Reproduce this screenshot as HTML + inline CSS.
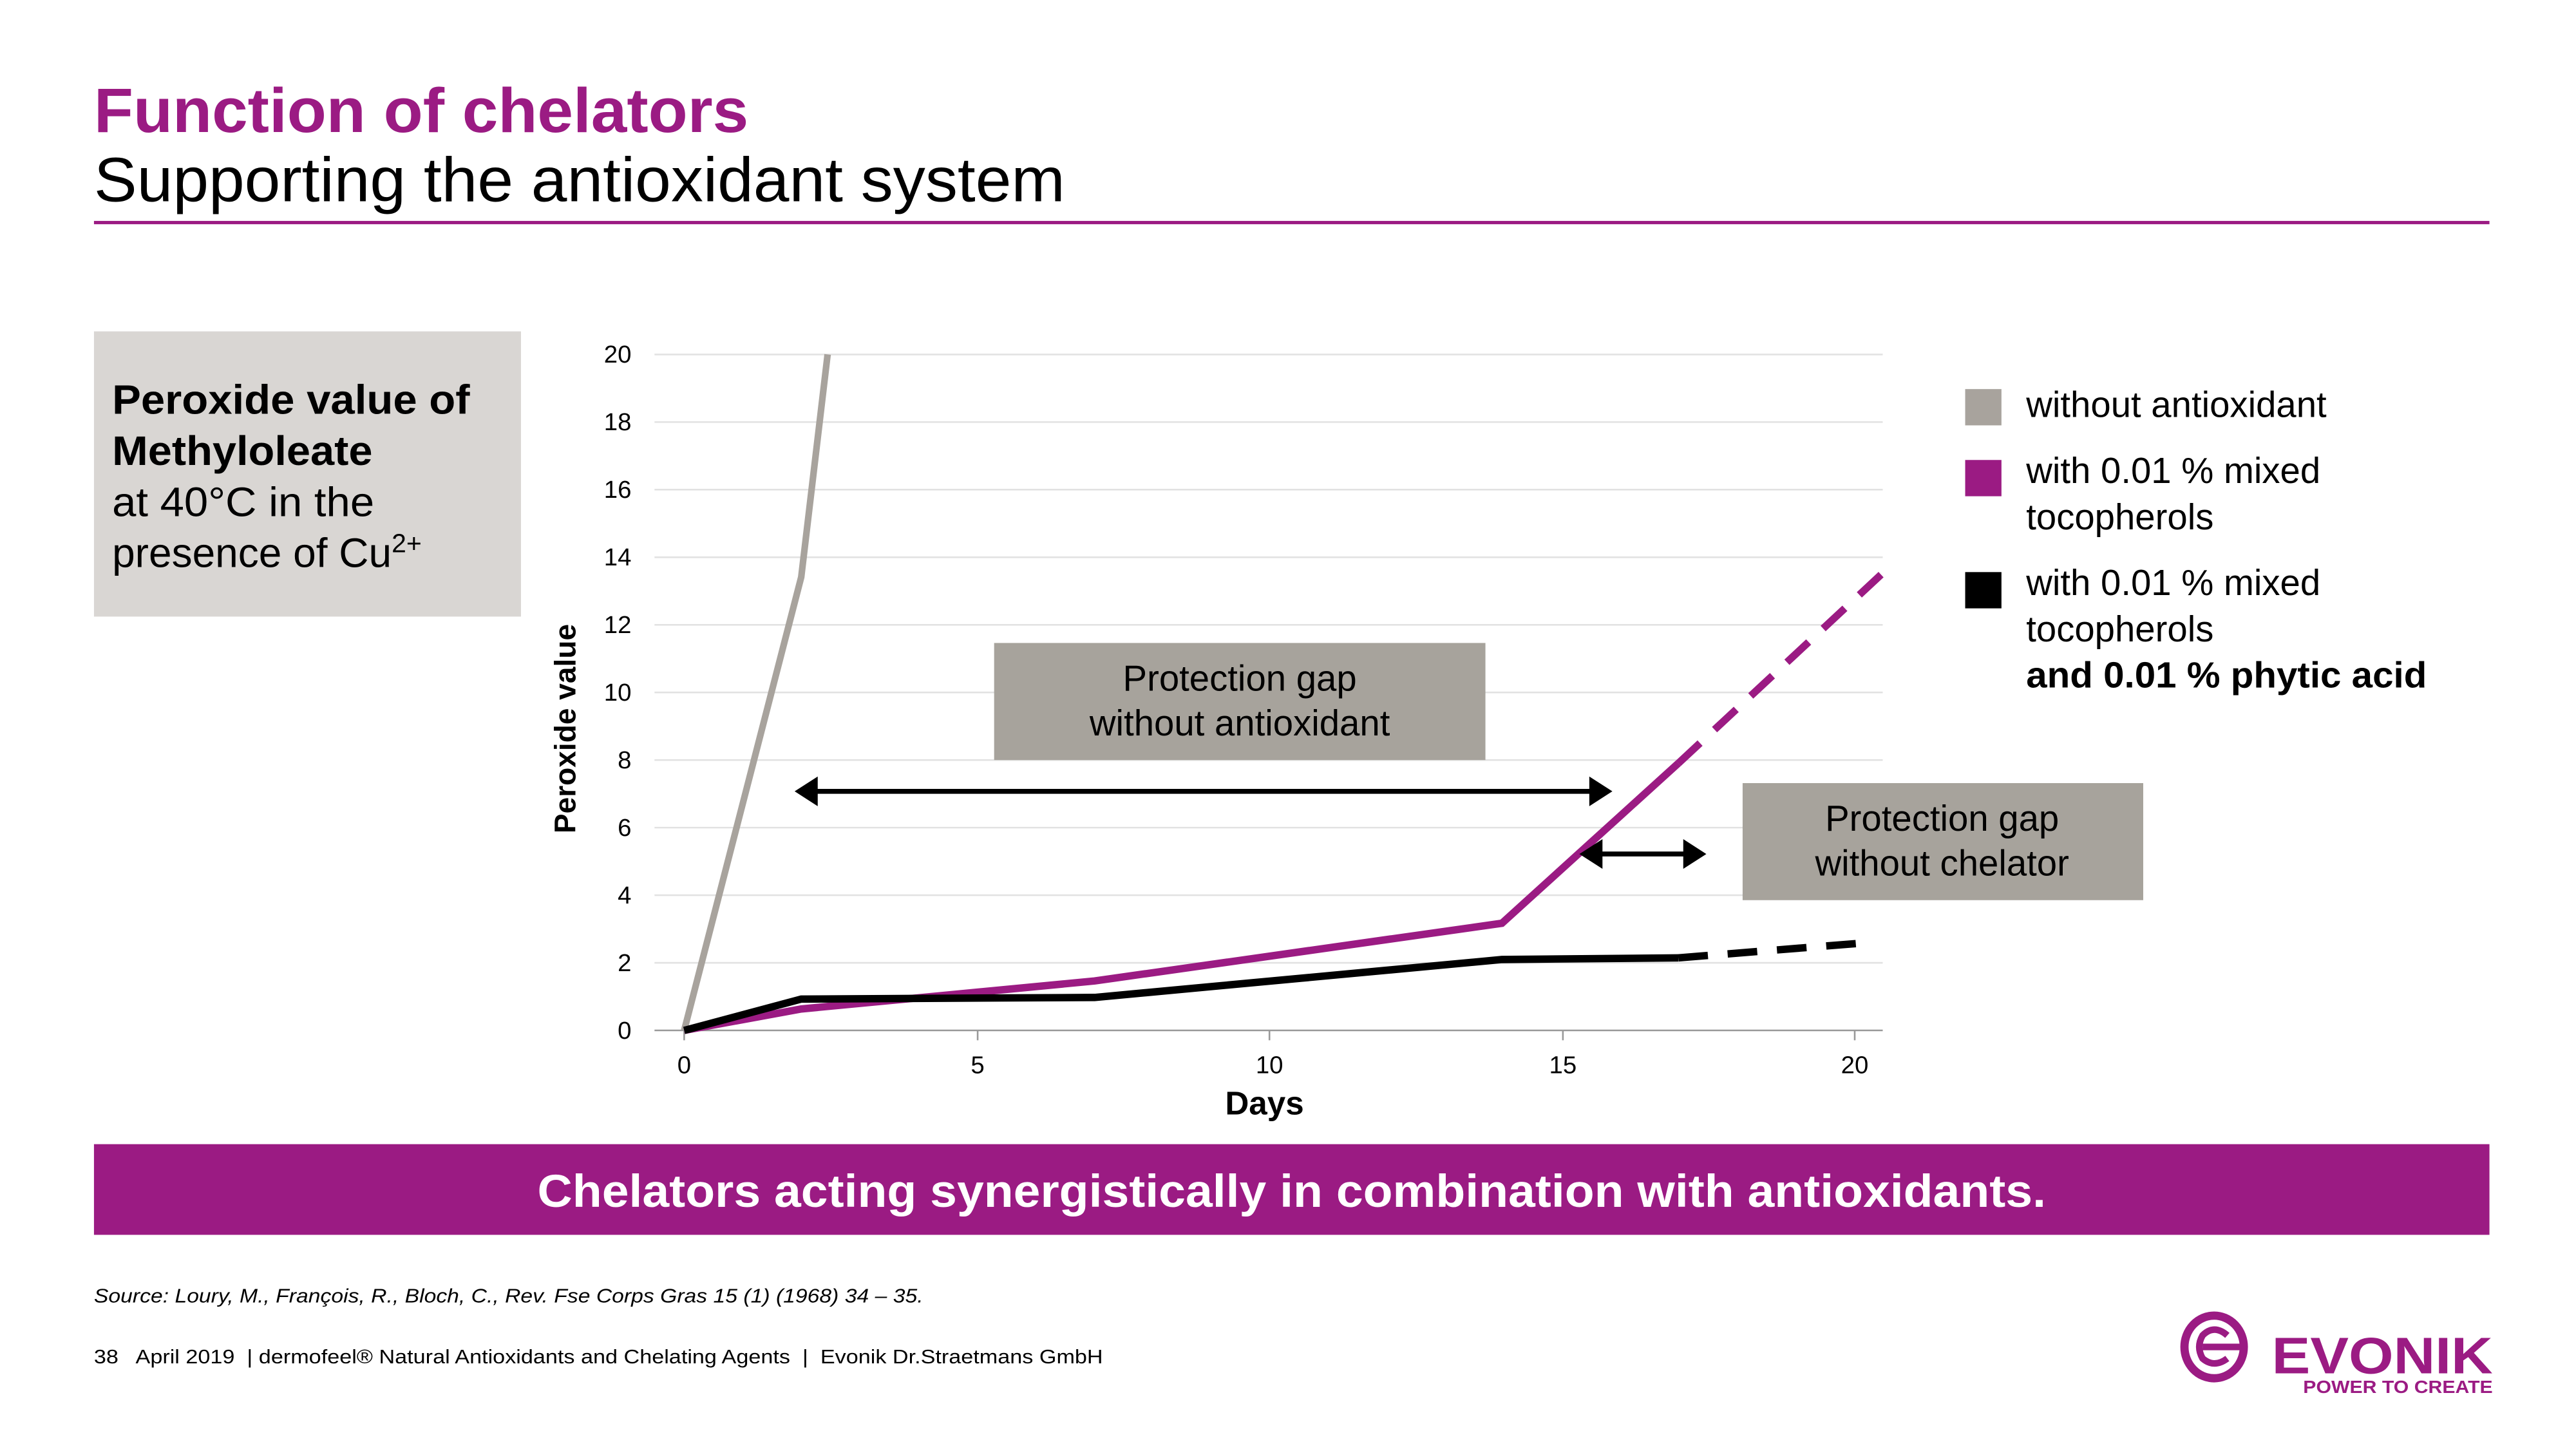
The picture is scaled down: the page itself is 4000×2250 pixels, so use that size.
<!DOCTYPE html>
<html><head><meta charset="utf-8"><style>
html,body{margin:0;padding:0;background:#fff;}
svg{display:block;}
text{font-family:"Liberation Sans",Arial,sans-serif;}
</style></head><body>
<svg width="4000" height="2250" viewBox="0 0 1562.5 878.9" xmlns="http://www.w3.org/2000/svg">
<rect width="1562.5" height="878.9" fill="#fff"/>
<text x="57" y="80" font-size="38" font-weight="bold" fill="#9b1b83" textLength="397" lengthAdjust="spacingAndGlyphs">Function of chelators</text>
<text x="57" y="122" font-size="38" fill="#000" textLength="589" lengthAdjust="spacingAndGlyphs">Supporting the antioxidant system</text>
<rect x="57" y="134" width="1453" height="2" fill="#9b1b83"/>

<rect x="57" y="201" width="259" height="173" fill="#d9d6d3"/>
<g font-size="25" fill="#000">
<text x="68" y="251" font-weight="bold" textLength="217" lengthAdjust="spacingAndGlyphs">Peroxide value of</text>
<text x="68" y="282" font-weight="bold" textLength="158" lengthAdjust="spacingAndGlyphs">Methyloleate</text>
<text x="68" y="313" textLength="159" lengthAdjust="spacingAndGlyphs">at 40°C in the</text>
<text x="68" y="344">presence of Cu<tspan font-size="16" dy="-9">2+</tspan></text>
</g>

<g stroke="#e2e2e2" stroke-width="1">
<line x1="397" y1="215" x2="1142" y2="215"/><line x1="397" y1="256" x2="1142" y2="256"/>
<line x1="397" y1="297" x2="1142" y2="297"/><line x1="397" y1="338" x2="1142" y2="338"/>
<line x1="397" y1="379" x2="1142" y2="379"/><line x1="397" y1="420" x2="1142" y2="420"/>
<line x1="397" y1="461" x2="1142" y2="461"/><line x1="397" y1="502" x2="1142" y2="502"/>
<line x1="397" y1="543" x2="1142" y2="543"/><line x1="397" y1="584" x2="1142" y2="584"/>
</g>
<g stroke="#999" stroke-width="1">
<line x1="397" y1="625" x2="1142" y2="625"/>
<line x1="415" y1="625" x2="415" y2="631"/><line x1="593" y1="625" x2="593" y2="631"/>
<line x1="770" y1="625" x2="770" y2="631"/><line x1="948" y1="625" x2="948" y2="631"/>
<line x1="1125" y1="625" x2="1125" y2="631"/>
</g>
<g font-size="15" fill="#000" text-anchor="end">
<text x="383" y="220">20</text><text x="383" y="261">18</text><text x="383" y="302">16</text>
<text x="383" y="343">14</text><text x="383" y="384">12</text><text x="383" y="425">10</text>
<text x="383" y="466">8</text><text x="383" y="507">6</text><text x="383" y="548">4</text>
<text x="383" y="589">2</text><text x="383" y="630">0</text>
</g>
<g font-size="15" fill="#000" text-anchor="middle">
<text x="415" y="651">0</text><text x="593" y="651">5</text><text x="770" y="651">10</text>
<text x="948" y="651">15</text><text x="1125" y="651">20</text>
</g>
<text x="767" y="676" font-size="20" font-weight="bold" text-anchor="middle">Days</text>
<text transform="translate(349,442) rotate(-90)" font-size="18" font-weight="bold" text-anchor="middle">Peroxide value</text>

<polyline points="415,625 486,350 502,215" fill="none" stroke="#a8a39d" stroke-width="4"/>
<polyline points="415,625 486,612 570,604 664,595 911,560 1018,463" fill="none" stroke="#9b1b83" stroke-width="4.5"/>
<line x1="1018" y1="463" x2="1148" y2="342" stroke="#9b1b83" stroke-width="4.5" stroke-dasharray="18,12"/>
<polyline points="415,625 486,606 664,605 911,582 1018,581" fill="none" stroke="#000" stroke-width="4.5"/>
<line x1="1018" y1="581" x2="1130" y2="572" stroke="#000" stroke-width="4.5" stroke-dasharray="18,12"/>

<rect x="603" y="390" width="298" height="71" fill="#a7a39c"/>
<g font-size="22" fill="#000" text-anchor="middle">
<text x="752" y="419">Protection gap</text><text x="752" y="446">without antioxidant</text>
</g>
<rect x="1057" y="475" width="243" height="71" fill="#a7a39c"/>
<g font-size="22" fill="#000" text-anchor="middle">
<text x="1178" y="504">Protection gap</text><text x="1178" y="531">without chelator</text>
</g>
<line x1="492" y1="480" x2="968" y2="480" stroke="#000" stroke-width="3"/>
<polygon points="482,480 496,471 496,489" fill="#000"/>
<polygon points="978,480 964,471 964,489" fill="#000"/>
<line x1="968" y1="518" x2="1025" y2="518" stroke="#000" stroke-width="3"/>
<polygon points="958,518 972,509 972,527" fill="#000"/>
<polygon points="1035,518 1021,509 1021,527" fill="#000"/>

<rect x="1192" y="236" width="22" height="22" fill="#a8a39d"/>
<rect x="1192" y="279" width="22" height="22" fill="#9b1b83"/>
<rect x="1192" y="347" width="22" height="22" fill="#000"/>
<g font-size="22" fill="#000">
<text x="1229" y="253">without antioxidant</text>
<text x="1229" y="293">with 0.01 % mixed</text>
<text x="1229" y="321">tocopherols</text>
<text x="1229" y="361">with 0.01 % mixed</text>
<text x="1229" y="389">tocopherols</text>
<text x="1229" y="417" font-weight="bold" textLength="243" lengthAdjust="spacingAndGlyphs">and 0.01 % phytic acid</text>
</g>

<rect x="57" y="694" width="1453" height="55" fill="#9b1b83"/>
<text x="326" y="732" font-size="28" font-weight="bold" fill="#fff" textLength="915" lengthAdjust="spacingAndGlyphs">Chelators acting synergistically in combination with antioxidants.</text>

<text x="57" y="790" font-size="12" font-style="italic" fill="#000" textLength="503" lengthAdjust="spacingAndGlyphs">Source: Loury, M., François, R., Bloch, C., Rev. Fse Corps Gras 15 (1) (1968) 34 – 35.</text>
<text x="57" y="827" font-size="12" fill="#000" xml:space="preserve" textLength="612" lengthAdjust="spacingAndGlyphs">38   April 2019  | dermofeel® Natural Antioxidants and Chelating Agents  |  Evonik Dr.Straetmans GmbH</text>

<g fill="none" stroke="#9b1b83">
<ellipse cx="1343" cy="817" rx="18" ry="19" stroke-width="5"/>
<path d="M1351,810 Q1343,803 1336,810 Q1332,817 1336,824 Q1343,830 1351,824" stroke-width="4"/>
</g>
<rect x="1336" y="815" width="25" height="4" fill="#9b1b83"/>
<text x="1378" y="833" font-size="31" font-weight="bold" fill="#9b1b83" textLength="134" lengthAdjust="spacingAndGlyphs">EVONIK</text>
<text x="1397" y="845" font-size="11" font-weight="bold" fill="#9b1b83" textLength="115" lengthAdjust="spacingAndGlyphs">POWER TO CREATE</text>
</svg>
</body></html>
